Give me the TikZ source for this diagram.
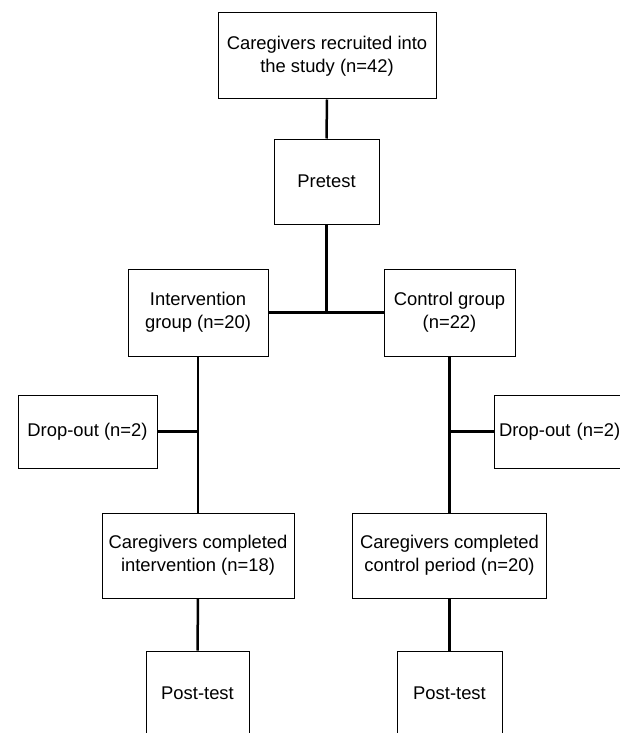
\documentclass[tikz,border=0pt]{standalone}
\usepackage{fontspec}
\setmainfont{Liberation Sans}
\usetikzlibrary{positioning}

\tikzset{
  box/.style={draw, line width=1pt, inner sep=0pt, align=center,
    font=\fontsize{18.4}{23}\selectfont},
  link/.style={line width=2.5pt}
}

\begin{document}
\begin{tikzpicture}[x=1pt,y=-1pt]
\useasboundingbox (0,0) rectangle (620,733);

\node[box, minimum width=218pt, minimum height=86pt] (rec) at (327,56) {Caregivers recruited into\\the study (n=42)};
\node[box, minimum width=105pt, minimum height=85pt] (pre) at (326.5,181.5) {Pretest};
\node[box, minimum width=140pt, minimum height=87pt] (int) at (198,312.5) {Intervention\\group (n=20)};
\node[box, minimum width=131pt, minimum height=87pt] (con) at (449.5,312.5) {Control group\\(n=22)};
\node[box, minimum width=139pt, minimum height=73pt] (dl) at (87.5,431.5) {Drop-out (n=2)};
\node[box, minimum width=139pt, minimum height=73pt, text width=129pt, align=left] (dr) at (563.5,431.5) {Drop-out (n=2)};
\node[box, minimum width=192pt, minimum height=85pt] (ci) at (198,555.5) {Caregivers completed\\intervention (n=18)};
\node[box, minimum width=194pt, minimum height=85pt] (cc) at (449.5,555.5) {Caregivers completed\\control period (n=20)};
\node[box, minimum width=103pt, minimum height=85pt] (pl) at (197.5,693.5) {Post-test};
\node[box, minimum width=105pt, minimum height=85pt] (pr) at (449.5,693.5) {Post-test};

\foreach \i/\j in {rec/pre, int/ci, ci/pl, con/cc, cc/pr}
    \draw[link] (\i.south) -- (\j.north);

\draw[link] (pre.south) -- (pre.south |- int.east);
\draw[link] (int.east) -- (con.west);
\draw[link] (dl.east) -- (dl.east -| int.south);
\draw[link] (dr.west) -- (dr.west -| con.south);

\end{tikzpicture}
\end{document}
